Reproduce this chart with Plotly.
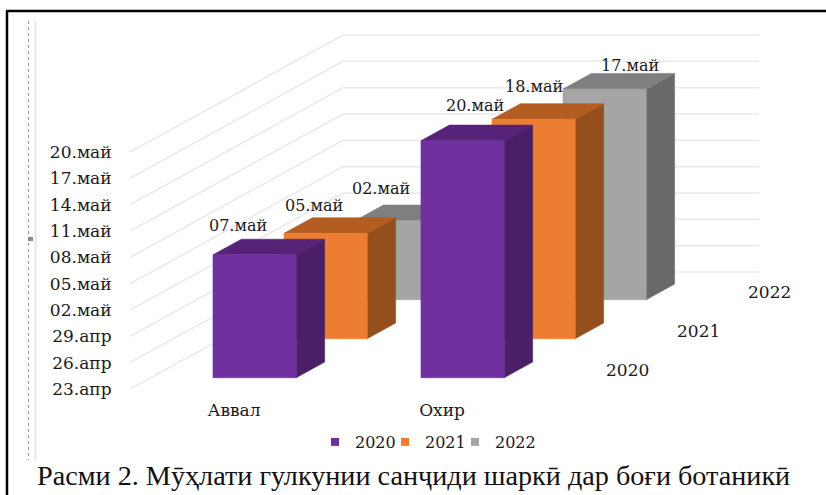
from datetime import date
import plotly.graph_objects as go

# ---- data -------------------------------------------------------------
categories = ["Аввал", "Охир"]
series_names = ["2020", "2021", "2022"]
dates_2020 = [date(2022, 5, 7), date(2022, 5, 20)]
dates_2021 = [date(2022, 5, 5), date(2022, 5, 18)]
dates_2022 = [date(2022, 5, 2), date(2022, 5, 17)]
axis_start = date(2022, 4, 23)
axis_step_days = 3
axis_tick_count = 10
caption = "Расми 2. Мӯҳлати гулкунии санҷиди шаркӣ дар боғи ботаникӣ"

# ---- styles -----------------------------------------------------------
front_colors = ["#7030A0", "#ED7D31", "#A5A5A5"]
top_colors = ["#572379", "#B45D23", "#7F7F7F"]
side_colors = ["#4A1F68", "#93501C", "#696969"]
GRID = "#E9E9E9"
SERIF = "DejaVu Serif"
INK = "#1a1a1a"

W, H = 826, 495
L, R, T, B = 130, 790, 20, 389      # plot area in pixels
PX_X = 208.0                        # px per category
PX_Y = 26.33 / 3                    # px per day
DX = 71.0 / PX_X                    # oblique depth, per series, x units
DY = 39.0 / PX_Y                    # oblique depth, per series, days
BAR_W = 0.4
D_FRONT, D_BACK = 0.29, 0.69        # bar extent inside its depth cell

MONTHS = {4: "апр", 5: "май"}


def fmt(d):
    return f"{d.day:02d}.{MONTHS[d.month]}"


def days(d):
    return (d - axis_start).days


def px(x):
    return (x - L) / (R - L)


def py(y):
    return (B - y) / (B - T)


tick_days = [i * axis_step_days for i in range(axis_tick_count)]
tick_text = [fmt(date.fromordinal(axis_start.toordinal() + v)) for v in tick_days]
series = [dates_2020, dates_2021, dates_2022]

fig = go.Figure()


def poly(xs, ys, color):
    fig.add_trace(go.Scatter(
        x=xs + xs[:1], y=ys + ys[:1], mode="lines", fill="toself",
        fillcolor=color, line=dict(color=color, width=0.6),
        hoverinfo="skip", showlegend=False))


# walls' gridlines
for v in tick_days:
    fig.add_trace(go.Scatter(
        x=[0, 3 * DX, 3 * DX + len(categories)],
        y=[v, v + 3 * DY, v + 3 * DY],
        mode="lines", line=dict(color=GRID, width=1.5),
        hoverinfo="skip", showlegend=False))

# bars, back to front
for s in reversed(range(len(series))):
    for c, d in enumerate(series[s]):
        x0 = c + 0.5 - BAR_W / 2 + (s + D_FRONT) * DX
        x1 = x0 + BAR_W
        y0 = (s + D_FRONT) * DY
        y1 = y0 + days(d)
        ddx = (D_BACK - D_FRONT) * DX
        ddy = (D_BACK - D_FRONT) * DY
        poly([x1, x1 + ddx, x1 + ddx, x1], [y0, y0 + ddy, y1 + ddy, y1], side_colors[s])
        poly([x0, x1, x1 + ddx, x0 + ddx], [y1, y1, y1 + ddy, y1 + ddy], top_colors[s])
        poly([x0, x1, x1, x0], [y0, y0, y1, y1], front_colors[s])

# legend entries: one legend per series so each sits where the reference has it
legend_ids = ["legend", "legend2", "legend3"]
legend_left_px = [315, 385, 455]
legend_layout = {}
for s, name in enumerate(series_names):
    fig.add_trace(go.Scatter(
        x=[None], y=[None], mode="markers", name=name, legend=legend_ids[s],
        marker=dict(symbol="square", size=8, color=front_colors[s])))
    legend_layout[legend_ids[s]] = dict(
        orientation="h", xref="paper", yref="paper",
        x=px(legend_left_px[s]), y=py(442), xanchor="left", yanchor="middle",
        font=dict(family=SERIF, size=16, color=INK), bgcolor="rgba(0,0,0,0)")

# data labels (hand-placed in the reference, offsets from each bar's front-left top)
label_shift = [[(25, 29), (54, 35)], [(30, 27.5), (42, 32.5)], [(26, 32), (67, 24)]]
anns = []
for s in range(len(series)):
    for c, d in enumerate(series[s]):
        anns.append(dict(
            x=c + 0.5 - BAR_W / 2 + (s + D_FRONT) * DX,
            y=(s + D_FRONT) * DY + days(d),
            xshift=label_shift[s][c][0], yshift=label_shift[s][c][1],
            text=fmt(d), showarrow=False, font=dict(family=SERIF, size=16, color=INK)))

# depth-axis labels
for s, name in enumerate(series_names):
    anns.append(dict(
        x=len(categories) + (s + 0.5) * DX, y=(s + 0.5) * DY,
        xshift=46, yshift=0, text=name, showarrow=False,
        font=dict(family=SERIF, size=17, color=INK)))

anns.append(dict(
    xref="paper", yref="paper", x=px(413), y=py(475), xanchor="center", yanchor="middle",
    text=caption, showarrow=False,
    font=dict(family="Liberation Serif", size=28.2, color="#111111")))

shapes = [
    dict(type="line", xref="paper", yref="paper", x0=px(7), x1=px(7), y0=py(495), y1=py(11),
         line=dict(color="black", width=2.5)),
    dict(type="line", xref="paper", yref="paper", x0=px(6), x1=px(826), y0=py(11), y1=py(11),
         line=dict(color="black", width=2.5)),
    dict(type="line", xref="paper", yref="paper", x0=px(28.5), x1=px(28.5), y0=py(21), y1=py(460),
         line=dict(color="#9a9a9a", width=1, dash="dot")),
    dict(type="line", xref="paper", yref="paper", x0=px(35.5), x1=px(35.5), y0=py(21), y1=py(460),
         line=dict(color="#E6E6E6", width=2)),
    dict(type="rect", xref="paper", yref="paper", x0=px(28), x1=px(33), y0=py(237), y1=py(241),
         fillcolor="#8a8a8a", line=dict(width=0)),
]

fig.update_layout(
    width=W, height=H,
    margin=dict(l=L, r=W - R, t=T, b=H - B, pad=0),
    paper_bgcolor="white", plot_bgcolor="white",
    annotations=anns, shapes=shapes,
    showlegend=True,
    xaxis=dict(
        range=[0, (R - L) / PX_X], showgrid=False, zeroline=False, showline=False,
        tickmode="array", tickvals=[i + 0.5 for i in range(len(categories))], ticktext=categories,
        ticks="outside", ticklen=6, tickcolor="rgba(0,0,0,0)",
        tickfont=dict(family=SERIF, size=17, color=INK), fixedrange=True),
    yaxis=dict(
        range=[0, (B - T) / PX_Y], showgrid=False, zeroline=False, showline=False,
        tickmode="array", tickvals=tick_days, ticktext=tick_text,
        ticks="outside", ticklen=14, tickcolor="rgba(0,0,0,0)",
        tickfont=dict(family=SERIF, size=17, color=INK), fixedrange=True),
    **legend_layout,
)

fig.write_html("out.html", config={"displayModeBar": False},
               post_script="document.body.style.margin='0';document.body.style.overflow='hidden';")
